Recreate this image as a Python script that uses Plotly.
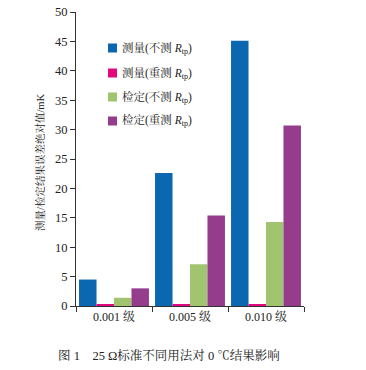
import plotly.graph_objects as go

categories = ["0.001 级", "0.005 级", "0.010 级"]
series_names = [
    "测量(不测 <i>R</i><sub>tp</sub>)",
    "测量(重测 <i>R</i><sub>tp</sub>)",
    "检定(不测 <i>R</i><sub>tp</sub>)",
    "检定(重测 <i>R</i><sub>tp</sub>)",
]
meas_no = [4.5, 22.6, 45.1]
meas_re = [0.2, 0.2, 0.2]
cal_no = [1.4, 7.1, 14.3]
cal_re = [3.0, 15.4, 30.7]
colors = ["#0a67b0", "#e2097f", "#a1c46f", "#953d8c"]

FONT = "Liberation Serif, Times New Roman, Noto Serif CJK SC, Noto Sans CJK SC, serif"

W, H = 366, 370
L, R, T, B = 76, 62, 12, 64
PW, PH = W - L - R, H - T - B


def px_x(x):
    return (x - L) / PW


def px_y(y):
    return (H - B - y) / PH


fig = go.Figure()
for i, (name, vals) in enumerate(zip(series_names, [meas_no, meas_re, cal_no, cal_re])):
    fig.add_trace(go.Bar(x=categories, y=vals, name=name, marker_color=colors[i],
                         marker_line_width=0))

shapes = []
annotations = []
legend_y = [48, 73, 97, 121]
for i, name in enumerate(series_names):
    yc = legend_y[i]
    shapes.append(dict(type="rect", xref="paper", yref="paper",
                       x0=px_x(108), x1=px_x(117), y0=px_y(yc + 4.5), y1=px_y(yc - 4.5),
                       fillcolor=colors[i], line=dict(width=0)))
    annotations.append(dict(text=name, xref="paper", yref="paper", x=px_x(120), y=px_y(yc),
                            xanchor="left", yanchor="middle", showarrow=False,
                            font=dict(size=11.5, color="#222")))

annotations.append(dict(text="图 1　25 Ω标准不同用法对 0 ℃结果影响", xref="paper", yref="paper",
                        x=px_x(169), y=px_y(355), xanchor="center", yanchor="middle",
                        showarrow=False, font=dict(size=12.5, color="#222")))
annotations.append(dict(text="测量/检定结果误差绝对值/mK", xref="paper", yref="paper",
                        x=px_x(40), y=px_y(162), xanchor="center", yanchor="middle",
                        textangle=-90, showarrow=False, font=dict(size=10.5, color="#222")))

fig.update_layout(
    width=W, height=H,
    margin=dict(l=L, r=R, t=T, b=B, autoexpand=False),
    paper_bgcolor="white", plot_bgcolor="white",
    font=dict(family=FONT, size=12, color="#222"),
    barmode="group", bargap=0.08, bargroupgap=0,
    showlegend=False,
    xaxis=dict(showline=True, linecolor="#333", linewidth=1, ticks="outside",
               tickson="boundaries", ticklen=5, tickcolor="#333",
               tickfont=dict(size=12), showgrid=False, automargin=False),
    yaxis=dict(range=[0, 50], dtick=5, showline=True, linecolor="#333", linewidth=1,
               ticks="outside", ticklen=5, tickcolor="#333", showgrid=False,
               zeroline=False, tickfont=dict(size=12.5), automargin=False,
               ticklabeloverflow="allow"),
    shapes=shapes,
    annotations=annotations,
)

fig.write_html("out.html", config={"displayModeBar": False},
               post_script="document.body.style.margin='0';")
